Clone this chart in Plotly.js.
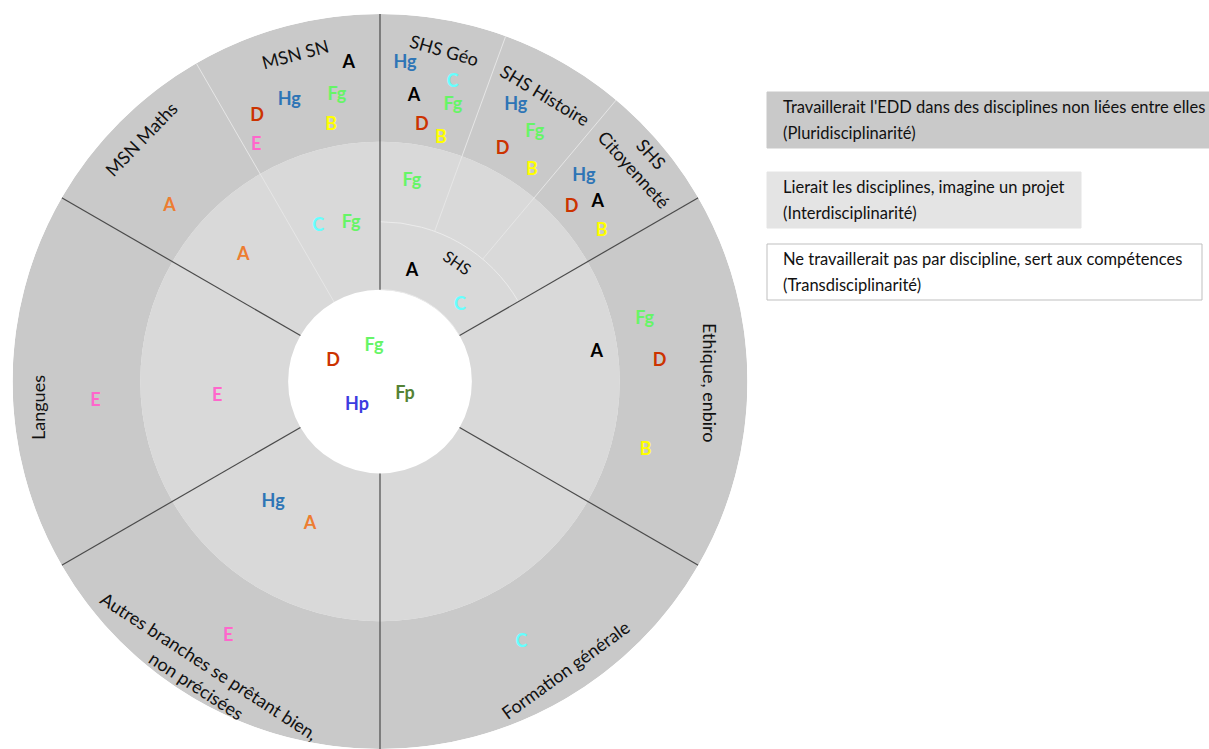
<!DOCTYPE html>
<html>
<head>
<meta charset="utf-8">
<script src="https://cdn.plot.ly/plotly-3.0.1.min.js"></script>
<style>html,body{margin:0;padding:0;background:#fff}#chart{width:1209px;height:749px}</style>
</head>
<body>
<div id="chart"></div>
<script>
// ---------- data ----------
// ring limits (radial units)
const ringInner = 92, ringMid = 240, ringOuter = 368, shsSubRing = 160;

// six main sectors (angle of centre, degrees counter-clockwise from east)
const sectorNames  = ['SHS', 'Ethique, enbiro', 'Formation générale', 'Autres branches', 'Langues', 'MSN'];
const sectorCenter = [60, 0, 300, 240, 180, 120];
const sectorSpan   = [60, 60, 60, 60, 60, 60];
const sectorBorders = [30, 90, 150, 210, 270, 330];
// sub-divisions
const subBorderFull = [120];      // MSN Maths | MSN SN
const subBorderShs  = [70, 50];   // SHS Géo | SHS Histoire | SHS Citoyenneté

// letters placed in the rings
const letterText  = ['A','Hg','Fg','D','B','E','A','Hg','C','A','Fg','D','B','Hg','Fg','D','B','Hg','D','A','B','Fg','D','B','C','E','E',
                     'C','Fg','A','Fg','A','C','A','Hg','A','E',
                     'Fg','D','Fp','Hp'];
const letterGroup = ['A','Hg','Fg','D','B','E','Ao','Hg','C','A','Fg','D','B','Hg','Fg','D','B','Hg','D','A','B','Fg','D','B','C','E','E',
                     'C','Fg','Ao','Fg','A','C','A','Hg','Ao','E',
                     'Fg','D','Fp','Hp'];
const letterR     = [319.5,295.4,289.2,292.2,260.6,266.6,274.1,319.0,307.8,287.0,285.5,259.4,250.5,307.7,293.3,262.6,260.0,289.2,259.1,282.1,267.9,272.2,280.7,274.8,297.1,296.9,285.7,
                     166.9,160.6,186.1,202.5,114.6,110.3,218.9,161.5,159.2,163.7,
                     35.5,51.1,28.2,33.2];
const letterTheta = [95.6,107.9,98.6,114.9,100.8,117.7,140.3,85.5,76.3,83.2,75.2,80.7,75.9,63.8,58.1,62.1,54.2,45.1,42.2,39.4,34.0,13.2,4.1,345.5,298.5,239.2,184.0,
                     111.8,100.4,137.4,80.9,73.8,43.5,7.6,228.5,243.9,185.3,
                     99.7,156.9,332.5,226.2];

// sector titles
const titleText = ['MSN SN','MSN Maths','SHS Géo','SHS Histoire','SHS<br>Citoyenneté','SHS','Ethique, enbiro','Formation générale',
                   'Autres branches se prêtant bien,<br>non précisées','Langues'];

// legend texts
const legendLine1 = ["Travaillerait l'EDD dans des disciplines non liées entre elles", 'Lierait les disciplines, imagine un projet', 'Ne travaillerait pas par discipline, sert aux compétences'];
const legendLine2 = ['(Pluridisciplinarité)', '(Interdisciplinarité)', '(Transdisciplinarité)'];

// ---------- styles / layout helpers ----------
const groupColor = {A:'#000000', Ao:'#ED7D31', Hg:'#2E75B6', Fg:'#66F566', C:'#66FFFF', D:'#CC3300', B:'#FFFF00', E:'#FF66CC', Fp:'#548235', Hp:'#3C3CE0'};
const outerFill = '#c9c9c9', midFill = '#d9d9d9', faint = '#e6e6e6', dark = '#4a4a4a';
const W = 1209, H = 749;
const px = x => x / W, py = y => 1 - y / H;

// title placement (pixels), rotation and font size
const titlePos = [[295,54,-15,18],[141,139,-46,18],[444,50,16,18],[545,95,31,18],[643,161,48,18],[458,262,35,16],[710,382,90,18],[565,670,-36,18],[203,675,33,18],[38,408,-90,18]];
// legend boxes (pixels)
const legendBox = [[767,92,1209,148,'#c9c9c9','#c9c9c9'],[767,172,1081,228,'#e4e4e4','#e4e4e4'],[767,244,1202,300,'#ffffff','#bfbfbf']];

// ---------- traces ----------
const traces = [];
traces.push({type:'barpolar', theta:sectorCenter, width:sectorSpan, base:sectorCenter.map(()=>ringInner),
  r:sectorCenter.map(()=>ringMid-ringInner), marker:{color:midFill, line:{width:0}}, hoverinfo:'skip'});
traces.push({type:'barpolar', theta:sectorCenter, width:sectorSpan, base:sectorCenter.map(()=>ringMid),
  r:sectorCenter.map(()=>ringOuter-ringMid), marker:{color:outerFill, line:{width:0}}, hoverinfo:'skip'});
// SHS inner sub-ring
traces.push({type:'barpolar', theta:[sectorCenter[0]], width:[sectorSpan[0]], base:[ringInner], r:[shsSubRing-ringInner],
  marker:{color:midFill, line:{width:1, color:'#ebebeb'}}, hoverinfo:'skip'});

// faint sub-division lines
const fr = [], ft = [];
subBorderFull.forEach(a => { fr.push(ringInner, ringOuter, null); ft.push(a, a, null); });
subBorderShs.forEach(a => { fr.push(shsSubRing, ringOuter, null); ft.push(a, a, null); });
traces.push({type:'scatterpolar', mode:'lines', r:fr, theta:ft, line:{color:faint, width:1}, hoverinfo:'skip', connectgaps:false});

// main sector borders
const dr = [], dt = [];
sectorBorders.forEach(a => { dr.push(ringInner, ringOuter, null); dt.push(a, a, null); });
traces.push({type:'scatterpolar', mode:'lines', r:dr, theta:dt, line:{color:dark, width:1.2}, hoverinfo:'skip', connectgaps:false});

// letters
traces.push({type:'scatterpolar', mode:'text', r:letterR, theta:letterTheta, text:letterText,
  textposition:'middle center', textfont:{family:'Lato', size:18, weight:'bold', color:letterGroup.map(g => groupColor[g])},
  hoverinfo:'skip'});

// ---------- annotations & shapes ----------
const annotations = titleText.map((t, i) => ({
  text:t, x:px(titlePos[i][0]), y:py(titlePos[i][1]), xref:'paper', yref:'paper', xanchor:'center', yanchor:'middle', showarrow:false,
  textangle:titlePos[i][2], font:{family:'Lato', size:titlePos[i][3], color:'#111111'}, align:'center'
}));
const shapes = legendBox.map(b => ({type:'rect', xref:'paper', yref:'paper', x0:px(b[0]), x1:px(b[2]), y0:py(b[1]), y1:py(b[3]),
  fillcolor:b[4], line:{color:b[5], width:1}, layer:'below'}));
legendBox.forEach((b, i) => {
  annotations.push({text:legendLine1[i], x:px(781), y:py(b[1]+15), xref:'paper', yref:'paper', xanchor:'left', yanchor:'middle',
    showarrow:false, font:{family:'Lato', size:16.5, color:'#111111'}});
  annotations.push({text:legendLine2[i], x:px(781), y:py(b[1]+41), xref:'paper', yref:'paper', xanchor:'left', yanchor:'middle',
    showarrow:false, font:{family:'Lato', size:16.5, color:'#111111'}});
});

const layout = {
  width:W, height:H, margin:{l:0, r:0, t:0, b:0}, paper_bgcolor:'#ffffff', showlegend:false,
  polar:{
    domain:{x:[12/W, 748/W], y:[0, 735/H]}, bgcolor:'#ffffff',
    radialaxis:{visible:false, range:[0, ringOuter]},
    angularaxis:{visible:false, direction:'counterclockwise', rotation:0}
  },
  annotations:annotations, shapes:shapes
};
Plotly.newPlot('chart', traces, layout, {displayModeBar:false, staticPlot:true});
</script>
</body>
</html>
